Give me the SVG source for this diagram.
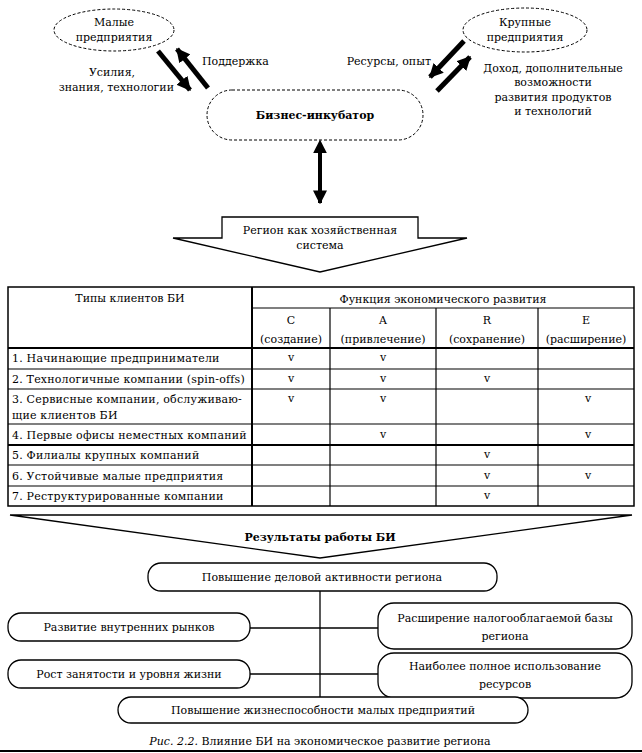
<svg xmlns="http://www.w3.org/2000/svg" width="642" height="753" viewBox="0 0 642 753">
<style>
text{font-family:"DejaVu Serif","Liberation Serif",serif;font-size:11px;fill:#000}
.c{text-anchor:middle}
.e{text-anchor:end}
.b{font-weight:bold}
.row{letter-spacing:0.2px}
.dot{fill:#fff;stroke:#000;stroke-width:1;stroke-dasharray:3 2}
.box{fill:#fff;stroke:#000;stroke-width:1.3}
.ln{stroke:#000;stroke-width:1.3;fill:none}
.thick{stroke:#000;stroke-width:5;fill:none}
.tl{stroke:#000;stroke-width:1.2}
.tb{stroke:#000;stroke-width:2}
</style>
<defs>
<marker id="ah" viewBox="0 0 10 10" refX="9" refY="5" markerUnits="userSpaceOnUse" markerWidth="14" markerHeight="14" orient="auto">
<path d="M0,0 L10,5 L0,10 z" fill="#000"/>
</marker>
<marker id="ahs" viewBox="0 0 10 10" refX="1" refY="5" markerUnits="userSpaceOnUse" markerWidth="14" markerHeight="14" orient="auto-start-reverse">
<path d="M0,0 L10,5 L0,10 z" fill="#000"/>
</marker>
</defs>

<g id="small">
<ellipse class="dot" cx="114" cy="30" rx="60" ry="21"/>
<text class="c" x="114" y="26">Малые</text>
<text class="c" x="114" y="41">предприятия</text>
</g>
<g id="large">
<ellipse class="dot" cx="525" cy="30" rx="62" ry="22"/>
<text class="c" x="525" y="26">Крупные</text>
<text class="c" x="525" y="41">предприятия</text>
</g>
<g id="bi">
<rect class="dot" x="207" y="90" width="216" height="50" rx="25"/>
<text class="c b" x="315" y="119">Бизнес-инкубатор</text>
</g>
<g id="region">
<polygon class="box" points="222,217 418,217 418,238 467,238 320,272 173,238 222,238"/>
<text class="c" x="320" y="234">Регион как хозяйственная</text>
<text class="c" x="320" y="249">система</text>
</g>

<g id="connectors">
<line class="thick" x1="158" y1="51" x2="190" y2="90" marker-end="url(#ah)"/>
<line class="thick" x1="208" y1="88" x2="177" y2="49" marker-end="url(#ah)"/>
<line class="thick" x1="464" y1="41" x2="430" y2="77" marker-end="url(#ah)"/>
<line class="thick" x1="437" y1="91" x2="470" y2="57" marker-end="url(#ah)"/>
<line class="ln" x1="320" y1="152" x2="320" y2="203" style="stroke-width:4" marker-start="url(#ahs)" marker-end="url(#ah)"/>
<line class="ln" x1="320" y1="591" x2="320" y2="697"/>
<line class="ln" x1="250" y1="628" x2="378" y2="628"/>
<line class="ln" x1="250" y1="674" x2="378" y2="674"/>
</g>

<g id="labels">
<text x="202" y="65">Поддержка</text>
<text class="c" x="112" y="76">Усилия,</text>
<text class="e" x="174" y="91">знания, технологии</text>
<text class="e" x="431" y="65">Ресурсы, опыт</text>
<text class="c" x="553" y="72">Доход, дополнительные</text>
<text class="c" x="553" y="86">возможности</text>
<text class="c" x="553" y="101">развития продуктов</text>
<text class="c" x="553" y="115">и технологий</text>
</g>

<g id="table">
<rect x="8" y="287" width="626" height="219" fill="#fff" stroke="#000" stroke-width="1.5"/>
<line class="tl" x1="252" y1="308" x2="634" y2="308"/>
<line class="tb" x1="8" y1="348" x2="634" y2="348"/>
<line class="tl" x1="8" y1="369" x2="634" y2="369"/>
<line class="tl" x1="8" y1="389" x2="634" y2="389"/>
<line class="tl" x1="8" y1="424" x2="634" y2="424"/>
<line class="tb" x1="8" y1="445" x2="634" y2="445"/>
<line class="tl" x1="8" y1="465" x2="634" y2="465"/>
<line class="tl" x1="8" y1="486" x2="634" y2="486"/>
<line class="tb" x1="252" y1="287" x2="252" y2="506"/>
<line class="tl" x1="330" y1="308" x2="330" y2="506"/>
<line class="tl" x1="436" y1="308" x2="436" y2="506"/>
<line class="tl" x1="538" y1="308" x2="538" y2="506"/>
<text class="c" x="130" y="302">Типы клиентов БИ</text>
<text class="c" x="443" y="303">Функция экономического развития</text>
<text class="c" x="291" y="324">C</text>
<text class="c" x="291" y="343">(создание)</text>
<text class="c" x="383" y="324">A</text>
<text class="c" x="383" y="343">(привлечение)</text>
<text class="c" x="487" y="324">R</text>
<text class="c" x="487" y="343">(сохранение)</text>
<text class="c" x="586" y="324">E</text>
<text class="c" x="586" y="343">(расширение)</text>
<text class="row" x="12" y="362">1. Начинающие предприниматели</text>
<text class="row" x="12" y="383">2. Технологичные компании (spin-offs)</text>
<text class="row" x="12" y="403">3. Сервисные компании, обслуживаю-</text>
<text class="row" x="12" y="419">щие клиентов БИ</text>
<text class="row" x="12" y="439">4. Первые офисы неместных компаний</text>
<text class="row" x="12" y="459">5. Филиалы крупных компаний</text>
<text class="row" x="12" y="480">6. Устойчивые малые предприятия</text>
<text class="row" x="12" y="500">7. Реструктурированные компании</text>
<g class="chk">
<text class="c" x="291" y="361">v</text>
<text class="c" x="383" y="361">v</text>
<text class="c" x="291" y="382">v</text>
<text class="c" x="383" y="382">v</text>
<text class="c" x="487" y="382">v</text>
<text class="c" x="291" y="402">v</text>
<text class="c" x="383" y="402">v</text>
<text class="c" x="588" y="402">v</text>
<text class="c" x="383" y="438">v</text>
<text class="c" x="588" y="438">v</text>
<text class="c" x="487" y="458">v</text>
<text class="c" x="487" y="479">v</text>
<text class="c" x="588" y="479">v</text>
<text class="c" x="487" y="499">v</text>
</g>
</g>

<g id="results">
<polygon class="box" points="10,515 632,515 320,558"/>
<text class="c b" x="320" y="541">Результаты работы БИ</text>
</g>
<g id="r1">
<rect class="box" x="148" y="563" width="349" height="28" rx="13"/>
<text class="c" x="322" y="581">Повышение деловой активности региона</text>
</g>
<g id="r2">
<rect class="box" x="8" y="613" width="242" height="28" rx="13"/>
<text class="c" x="129" y="631">Развитие внутренних рынков</text>
</g>
<g id="r3">
<rect class="box" x="378" y="603" width="254" height="46" rx="16"/>
<text class="c" x="505" y="622">Расширение налогооблагаемой базы</text>
<text class="c" x="505" y="640">региона</text>
</g>
<g id="r4">
<rect class="box" x="8" y="660" width="242" height="28" rx="13"/>
<text class="c" x="129" y="678">Рост занятости и уровня жизни</text>
</g>
<g id="r5">
<rect class="box" x="378" y="653" width="254" height="45" rx="16"/>
<text class="c" x="505" y="670">Наиболее полное использование</text>
<text class="c" x="505" y="688">ресурсов</text>
</g>
<g id="r6">
<rect class="box" x="118" y="697" width="410" height="26" rx="13"/>
<text class="c" x="323" y="714">Повышение жизнеспособности малых предприятий</text>
</g>
<g id="caption">
<text class="c" x="320" y="745"><tspan font-style="italic">Рис. 2.2.</tspan> Влияние БИ на экономическое развитие региона</text>
<line x1="0" y1="751" x2="642" y2="751" stroke="#000" stroke-width="2"/>
</g>
</svg>
